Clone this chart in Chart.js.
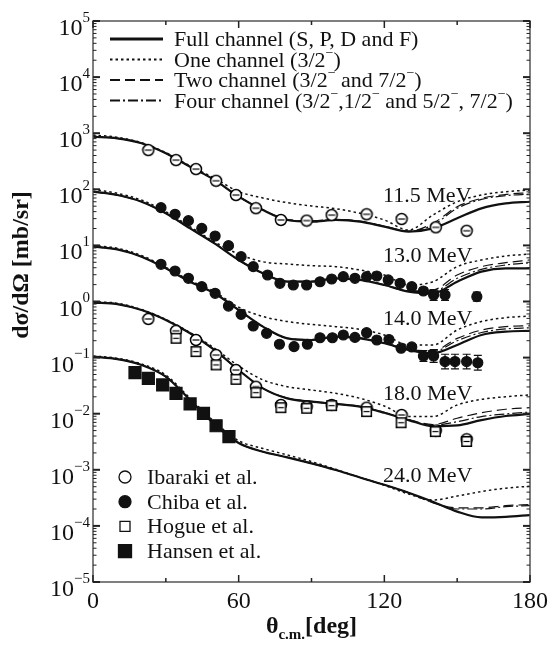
<!DOCTYPE html>
<html>
<head>
<meta charset="utf-8">
<script src="https://cdn.jsdelivr.net/npm/chart.js@4.4.1/dist/chart.umd.min.js"></script>
<style>
  html, body { margin: 0; padding: 0; background: #fff; }
  #wrap { width: 550px; height: 647px; position: relative; }
</style>
</head>
<body>
<div id="wrap"><canvas id="xsec"></canvas></div>
<script>
// --- angles (deg) where the calculated curves are sampled ---
const angles = [0, 10, 20, 30, 40, 50, 60, 70, 80, 90, 100, 110, 120, 130, 140, 150, 160, 170, 180];

// 11.5 MeV
const full11 = [865, 811, 661, 438, 253, 147, 74, 42.8, 28.4, 26.5, 28.4, 26.5, 21.6, 17.6, 20.1, 30.4, 45.8, 56, 60];
const one11 = [929, 845, 678, 450, 260, 158, 91, 70, 57.8, 50.4, 45.1, 37.3, 28.4, 18.8, 34.8, 60, 79, 90.6, 97];
const two11 = [865, 811, 661, 438, 253, 147, 74, 43, 29, 27.5, 29, 27, 22, 18, 24.7, 49, 69, 81, 87];
const four11 = [865, 811, 661, 438, 253, 147, 74, 43, 28.8, 27, 28.8, 26.8, 21.8, 17.8, 23.1, 45.8, 66, 77, 82];

// 13.0 MeV
const full13 = [90.7, 79, 60, 37.3, 20.1, 10.9, 5.5, 3.18, 2.25, 2.25, 2.59, 2.42, 1.97, 1.5, 1.4, 2.25, 3.4, 3.9, 3.9];
const one13 = [100, 84.8, 64.4, 39.9, 21.6, 11.6, 7.0, 5.1, 4.66, 4.35, 4.18, 3.64, 2.97, 1.97, 2.25, 4.18, 5.5, 6.47, 7.0];
const two13 = [90.7, 79, 60, 37.3, 20.1, 10.9, 5.5, 3.18, 2.3, 2.3, 2.6, 2.45, 2.0, 1.55, 1.6, 2.97, 4.18, 4.92, 5.5];
const four13 = [90.7, 79, 60, 37.3, 20.1, 10.9, 5.5, 3.18, 2.27, 2.27, 2.6, 2.43, 1.98, 1.52, 1.5, 2.59, 3.74, 4.47, 4.92];

// 14.0 MeV
const full14 = [9.5, 8.5, 6.3, 3.9, 2.25, 1.4, 0.705, 0.356, 0.22, 0.206, 0.236, 0.22, 0.18, 0.137, 0.119, 0.168, 0.253, 0.29, 0.3];
const one14 = [9.9, 8.9, 6.6, 4.07, 2.36, 1.5, 0.79, 0.54, 0.44, 0.39, 0.356, 0.319, 0.253, 0.168, 0.168, 0.31, 0.44, 0.515, 0.55];
const two14 = [9.5, 8.5, 6.3, 3.9, 2.25, 1.4, 0.705, 0.356, 0.222, 0.21, 0.24, 0.224, 0.184, 0.141, 0.133, 0.22, 0.31, 0.356, 0.37];
const four14 = [9.5, 8.5, 6.3, 3.9, 2.25, 1.4, 0.705, 0.356, 0.221, 0.208, 0.238, 0.222, 0.182, 0.139, 0.128, 0.2, 0.28, 0.325, 0.34];

// 18.0 MeV
const full18 = [0.953, 0.9, 0.705, 0.468, 0.271, 0.137, 0.06, 0.0283, 0.0188, 0.0164, 0.0149, 0.0133, 0.0104, 0.0077, 0.006, 0.0062, 0.0077, 0.0091, 0.0099];
const one18 = [0.99, 0.93, 0.72, 0.48, 0.28, 0.147, 0.071, 0.04, 0.0303, 0.0264, 0.0231, 0.0188, 0.0137, 0.0089, 0.0089, 0.0143, 0.018, 0.0201, 0.0216];
const two18 = [0.953, 0.9, 0.705, 0.468, 0.271, 0.137, 0.06, 0.0283, 0.019, 0.0166, 0.0151, 0.0135, 0.0106, 0.0079, 0.0064, 0.0083, 0.0104, 0.012, 0.0128];
const four18 = [0.953, 0.9, 0.705, 0.468, 0.271, 0.137, 0.06, 0.0283, 0.0189, 0.0165, 0.015, 0.0134, 0.0105, 0.0078, 0.0062, 0.0072, 0.0089, 0.0099, 0.0107];

// 24.0 MeV
const full24 = [0.104, 0.094, 0.074, 0.0457, 0.0175, 0.0065, 0.003, 0.0021, 0.00167, 0.0013, 0.00099, 0.00073, 0.00054, 0.00039, 0.00027, 0.00018, 0.000142, 0.000145, 0.000156];
const one24 = [0.107, 0.097, 0.077, 0.049, 0.0188, 0.0072, 0.0033, 0.0024, 0.00184, 0.0014, 0.00102, 0.00073, 0.00053, 0.00037, 0.00029, 0.00034, 0.00041, 0.00047, 0.00051];
const two24 = [0.104, 0.094, 0.074, 0.0457, 0.0175, 0.0065, 0.003, 0.0021, 0.00167, 0.0013, 0.00099, 0.00073, 0.00054, 0.00039, 0.00026, 0.00021, 0.00021, 0.00023, 0.00024];
const four24 = [0.104, 0.094, 0.074, 0.0457, 0.0175, 0.0065, 0.003, 0.0021, 0.00167, 0.0013, 0.00099, 0.00073, 0.00054, 0.00039, 0.00026, 0.0002, 0.0002, 0.00022, 0.00023];

// --- measured points ---
const ibarakiAng = [22.8, 34.2, 42.4, 50.7, 58.9, 67.1, 77.4, 88.0, 98.3, 112.7, 127.1, 141.2, 153.9];
const ibaraki11 = [500, 332, 229, 142, 79, 46, 28.4, 27.7, 34.7, 35.9, 29.5, 21, 18.2];
const ibaraki18 = [0.488, 0.3, 0.206, 0.111, 0.06, 0.0303, 0.0143, 0.0133, 0.0143, 0.0128, 0.0095, 0.005, 0.0035];

const chiba13Ang = [28.0, 33.8, 39.3, 44.8, 50.3, 55.8, 61.0, 66.0, 71.9, 77.0, 82.5, 88.0, 93.5, 98.3, 103.1, 107.9, 112.7, 116.9, 121.6, 126.5, 131.3, 136.1, 140.3, 145.0, 158.1];
const chiba13 = [47.1, 35.8, 27.6, 20.1, 14.7, 9.9, 6.3, 4.18, 2.97, 2.11, 1.97, 1.97, 2.25, 2.52, 2.77, 2.59, 2.77, 2.85, 2.42, 2.11, 1.84, 1.54, 1.31, 1.31, 1.22];
// relative errors (only the large ones show outside the markers)
const chiba13Err = [0, 0, 0, 0, 0, 0, 0, 0, 0, 0, 0, 0, 0, 0, 0, 0, 0, 0, 0, 0, 0, 0.15, 0.25, 0.25, 0.2];

const chiba14Ang = [28.0, 33.8, 39.3, 44.8, 50.3, 55.8, 61.0, 66.0, 71.5, 76.8, 82.8, 88.3, 93.5, 98.6, 103.1, 107.9, 112.7, 116.9, 121.9, 126.9, 131.3, 136.1, 140.3, 145.0, 149.1, 153.9, 158.5];
const chiba14 = [4.6, 3.5, 2.59, 1.84, 1.4, 0.83, 0.59, 0.366, 0.271, 0.173, 0.157, 0.173, 0.226, 0.226, 0.253, 0.229, 0.278, 0.206, 0.21, 0.147, 0.155, 0.107, 0.107, 0.085, 0.085, 0.085, 0.081];
const chiba14Err = [0, 0, 0, 0, 0, 0, 0, 0, 0, 0, 0, 0, 0, 0, 0, 0, 0, 0, 0, 0, 0, 0.25, 0.3, 0.35, 0.35, 0.35, 0.35];

const hogueAng = [34.2, 42.4, 50.7, 58.9, 67.1, 77.4, 88.0, 98.3, 112.7, 126.9, 141.0, 153.9];
const hogue18 = [0.221, 0.128, 0.074, 0.041, 0.0237, 0.0128, 0.0125, 0.0139, 0.0109, 0.0069, 0.0048, 0.0032];

const hansenAng = [17.3, 22.8, 28.7, 34.2, 40.0, 45.5, 50.7, 56.0];
const hansen24 = [0.054, 0.0426, 0.0325, 0.0231, 0.0149, 0.0101, 0.0061, 0.0039];

// --- labels ---
const energyLabels = ["11.5 MeV", "13.0 MeV", "14.0 MeV", "18.0 MeV", "24.0 MeV"];
const energyLabelY = [79, 6.75, 0.51, 0.0234, 0.00081];
const energyLabelX = 119.5;
const curveLegend = [
  "Full channel (S, P, D and F)",
  "One channel (3/2^{−})",
  "Two channel (3/2^{−} and 7/2^{−})",
  "Four channel (3/2^{−},1/2^{−} and 5/2^{−}, 7/2^{−})",
];
const pointLegend = ["Ibaraki et al.", "Chiba et al.", "Hogue et al.", "Hansen et al."];
const yExps = [-5, -4, -3, -2, -1, 0, 1, 2, 3, 4, 5];
const xTicks = [0, 60, 120, 180];

const SERIF = '"Liberation Serif", "Times New Roman", serif';
const pts = (xs, ys) => xs.map((x, i) => ({ x: x, y: ys[i] }));

// open markers carry a small horizontal bar through the middle
function barredMarker(shape, size) {
  const c = document.createElement("canvas");
  c.width = c.height = size + 2;
  const g = c.getContext("2d");
  const m = (size + 2) / 2, r = size / 2;
  g.fillStyle = "#fff";
  g.strokeStyle = "#000";
  g.lineWidth = 1.5;
  g.beginPath();
  if (shape === "circle") g.arc(m, m, r - 0.5, 0, Math.PI * 2);
  else g.rect(m - r + 0.75, m - r + 0.75, size - 1.5, size - 1.5);
  g.fill(); g.stroke();
  g.lineWidth = 1.2;
  g.beginPath(); g.moveTo(m - r + 2.5, m); g.lineTo(m + r - 2.5, m); g.stroke();
  return c;
}
const circleBar = barredMarker("circle", 12);
const squareBar = barredMarker("rect", 11);

const lineStyles = {
  full: { borderWidth: 2.2, borderDash: [] },
  one: { borderWidth: 1.5, borderDash: [2.5, 3] },
  two: { borderWidth: 1.2, borderDash: [10, 5] },
  four: { borderWidth: 1.2, borderDash: [10, 3, 2, 3] },
};
function curve(vals, kind) {
  return {
    type: "line",
    data: pts(angles, vals),
    borderColor: "#111",
    borderWidth: lineStyles[kind].borderWidth,
    borderDash: lineStyles[kind].borderDash,
    pointRadius: 0,
    cubicInterpolationMode: "monotone",
    fill: false,
    order: 2,
  };
}
const markStyles = {
  ibaraki: { pointStyle: circleBar, pointRadius: 6, pointBackgroundColor: "#fff" },
  chiba: { pointStyle: "circle", pointRadius: 5, pointBackgroundColor: "#111" },
  hogue: { pointStyle: squareBar, pointRadius: 5.5, pointBackgroundColor: "#fff" },
  hansen: { pointStyle: "rect", pointRadius: 8.5, pointBackgroundColor: "#111" },
};
function marks(xs, ys, kind, errs) {
  return Object.assign({
    type: "scatter",
    data: pts(xs, ys),
    errs: errs || null,
    pointBorderColor: "#111",
    pointBorderWidth: 1.2,
    showLine: false,
    order: 1,
  }, markStyles[kind]);
}

// rich text: ^{..} superscript, _{..} subscript
function richParts(text) {
  const parts = [];
  const re = /([\^_])\{([^}]*)\}/g;
  let last = 0, m;
  while ((m = re.exec(text))) {
    if (m.index > last) parts.push({ t: text.slice(last, m.index), k: "" });
    parts.push({ t: m[2], k: m[1] });
    last = re.lastIndex;
  }
  if (last < text.length) parts.push({ t: text.slice(last), k: "" });
  return parts;
}
function drawRich(ctx, text, x, y, size, opts) {
  opts = opts || {};
  const parts = richParts(text);
  const w = opts.bold ? "bold " : "";
  const small = Math.round(size * 0.62);
  const fontFor = (p) => w + (p.k ? small : size) + "px " + SERIF;
  let total = 0;
  parts.forEach((p) => { ctx.font = fontFor(p); p.w = ctx.measureText(p.t).width; total += p.w; });
  let cx = opts.align === "right" ? x - total : opts.align === "center" ? x - total / 2 : x;
  ctx.textAlign = "left";
  ctx.textBaseline = "alphabetic";
  parts.forEach((p) => {
    ctx.font = fontFor(p);
    const dy = p.k === "^" ? -size * (opts.supShift || 0.45) : p.k === "_" ? size * 0.25 : 0;
    ctx.fillText(p.t, cx, y + dy);
    cx += p.w;
  });
}

// vertical error bars with caps, from each dataset's relative errors
const errorBars = {
  id: "errorBars",
  beforeDatasetsDraw(chart) {
    const { ctx, scales } = chart;
    ctx.save();
    ctx.strokeStyle = "#111";
    ctx.lineWidth = 1.2;
    chart.data.datasets.forEach((ds) => {
      if (!ds.errs) return;
      ds.data.forEach((p, i) => {
        const f = ds.errs[i];
        if (!f) return;
        const px = scales.x.getPixelForValue(p.x);
        const lo = scales.y.getPixelForValue(p.y / (1 + f));
        const hi = scales.y.getPixelForValue(p.y * (1 + f));
        ctx.beginPath();
        ctx.moveTo(px, lo); ctx.lineTo(px, hi);
        ctx.moveTo(px - 4, lo); ctx.lineTo(px + 4, lo);
        ctx.moveTo(px - 4, hi); ctx.lineTo(px + 4, hi);
        ctx.stroke();
      });
    });
    ctx.restore();
  },
};

const decorations = {
  id: "decorations",
  afterDraw(chart) {
    const { ctx, chartArea: a, scales } = chart;
    const x = scales.x, y = scales.y;
    ctx.save();
    ctx.fillStyle = "#111";

    // frame
    ctx.strokeStyle = "#555";
    ctx.lineWidth = 1.5;
    ctx.strokeRect(a.left, a.top, a.right - a.left, a.bottom - a.top);

    // inward ticks
    ctx.strokeStyle = "#222";
    const tick = (x0, y0, dx, dy, lw) => {
      ctx.lineWidth = lw;
      ctx.beginPath(); ctx.moveTo(x0, y0); ctx.lineTo(x0 + dx, y0 + dy); ctx.stroke();
    };
    yExps.forEach((e) => {
      const py = y.getPixelForValue(Math.pow(10, e));
      tick(a.left, py, 7, 0, 2); tick(a.right, py, -7, 0, 2);
      if (e < 5) {
        for (let m = 2; m <= 9; m++) {
          const pm = y.getPixelForValue(m * Math.pow(10, e));
          tick(a.left, pm, 3.5, 0, 1); tick(a.right, pm, -3.5, 0, 1);
        }
      }
      drawRich(ctx, "10^{" + (e < 0 ? "−" + (-e) : e) + "}", 90, py + 14, 24, { align: "right", supShift: 0.55 });
    });
    for (let d = 0; d <= 180; d += 30) {
      const px = x.getPixelForValue(d);
      const len = d % 60 === 0 ? 7 : 4;
      tick(px, a.bottom, 0, -len, 1.5); tick(px, a.top, 0, len, 1.5);
    }
    ctx.textAlign = "center";
    ctx.font = "24px " + SERIF;
    xTicks.forEach((d) => ctx.fillText(String(d), x.getPixelForValue(d), 608));

    // axis titles
    drawRich(ctx, "θ_{c.m.}[deg]", (a.left + a.right) / 2, 633, 24, { bold: true, align: "center" });
    ctx.save();
    ctx.translate(20, 265);
    ctx.rotate(-Math.PI / 2);
    drawRich(ctx, "dσ/dΩ [mb/sr]", 0, 8, 24, { bold: true, align: "center" });
    ctx.restore();

    // energy labels
    energyLabels.forEach((t, i) => {
      drawRich(ctx, t, x.getPixelForValue(energyLabelX), y.getPixelForValue(energyLabelY[i]) + 7, 22);
    });

    // curve legend (top left)
    const dashes = [lineStyles.full, lineStyles.one, lineStyles.two, lineStyles.four];
    curveLegend.forEach((t, i) => {
      const ry = 39 + i * 20.5;
      ctx.strokeStyle = "#111";
      ctx.lineWidth = dashes[i].borderWidth + 0.6;
      ctx.setLineDash(dashes[i].borderDash);
      ctx.beginPath(); ctx.moveTo(110, ry); ctx.lineTo(163, ry); ctx.stroke();
      ctx.setLineDash([]);
      drawRich(ctx, t, 174, ry + 7, 22);
    });

    // point legend (bottom left)
    const kinds = ["ibaraki", "chiba", "hogue", "hansen"];
    kinds.forEach((k, i) => {
      const ry = 477 + i * 24.7;
      ctx.lineWidth = 1.3;
      ctx.strokeStyle = "#111";
      ctx.fillStyle = k === "chiba" || k === "hansen" ? "#111" : "#fff";
      ctx.beginPath();
      if (k === "ibaraki" || k === "chiba") {
        ctx.arc(125, ry, 6, 0, Math.PI * 2);
      } else {
        const h = k === "hogue" ? 5 : 6.5;
        ctx.rect(125 - h, ry - h, 2 * h, 2 * h);
      }
      ctx.fill(); ctx.stroke();
      ctx.fillStyle = "#111";
      drawRich(ctx, pointLegend[i], 147, ry + 7, 22);
    });
    ctx.restore();
  },
};

new Chart(document.getElementById("xsec"), {
  type: "line",
  data: {
    datasets: [
      marks(ibarakiAng, ibaraki11, "ibaraki"),
      marks(chiba13Ang, chiba13, "chiba", chiba13Err),
      marks(chiba14Ang, chiba14, "chiba", chiba14Err),
      marks(hogueAng, hogue18, "hogue"),
      marks(ibarakiAng, ibaraki18, "ibaraki"),
      marks(hansenAng, hansen24, "hansen"),
      curve(full11, "full"), curve(one11, "one"), curve(two11, "two"), curve(four11, "four"),
      curve(full13, "full"), curve(one13, "one"), curve(two13, "two"), curve(four13, "four"),
      curve(full14, "full"), curve(one14, "one"), curve(two14, "two"), curve(four14, "four"),
      curve(full18, "full"), curve(one18, "one"), curve(two18, "two"), curve(four18, "four"),
      curve(full24, "full"), curve(one24, "one"), curve(two24, "two"), curve(four24, "four"),
    ],
  },
  options: {
    responsive: true,
    maintainAspectRatio: false,
    animation: false,
    layout: { padding: { left: 93, right: 20, top: 21, bottom: 65 } },
    plugins: { legend: { display: false }, tooltip: { enabled: false } },
    scales: {
      x: { type: "linear", min: 0, max: 180, display: false },
      y: { type: "logarithmic", min: 1e-5, max: 1e5, display: false },
    },
  },
  plugins: [errorBars, decorations],
});
</script>
</body>
</html>
